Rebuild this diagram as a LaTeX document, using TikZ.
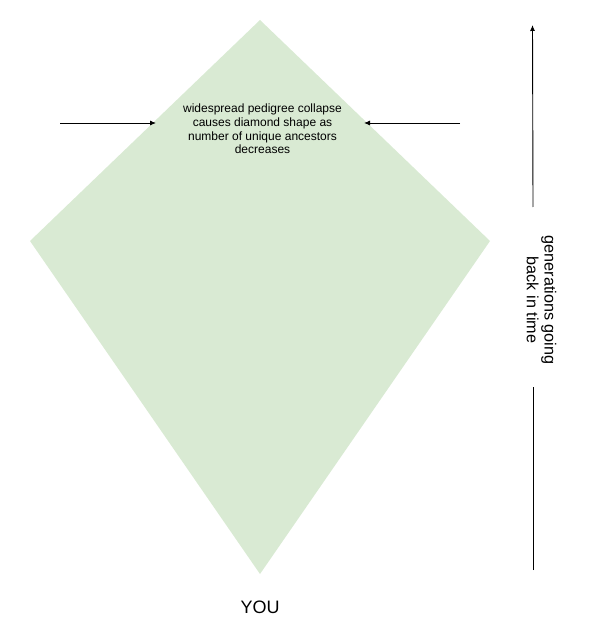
\documentclass[tikz,border=0pt]{standalone}
\usepackage{fontspec}
\setmainfont{Liberation Sans}
\usetikzlibrary{arrows.meta}
\definecolor{kitegreen}{HTML}{D9EAD3}
\tikzset{
  kite/.style={fill=kitegreen, draw=none},
  pointer/.style={draw=black, line width=0.9pt, -{Latex[length=6pt,width=5pt]}},
  plainline/.style={draw=black, line width=0.9pt},
  note/.style={inner sep=0pt, align=center, font=\fontsize{12}{13.75}\selectfont},
  sidenote/.style={inner sep=0pt, align=center, rotate=-90, font=\fontsize{16.2}{17.6}\selectfont},
  bignote/.style={inner sep=0pt, font=\fontsize{18}{21}\selectfont}
}
\begin{document}
\begin{tikzpicture}[x=1pt, y=-1pt]
\useasboundingbox (0,0) rectangle (596,644);
% diamond
\coordinate (top) at (260,20);
\coordinate (left) at (30,241);
\coordinate (right) at (490,241);
\coordinate (bottom) at (260,574);
\path[kite] (top) -- (right) -- (bottom) -- (left) -- cycle;
% texts
\node[note] (collapse) at (262.5,129) {widespread pedigree collapse\\causes diamond shape as\\number of unique ancestors\\decreases};
\node[sidenote] (gen) at (541.5,300) {generations going\\back in time};
\node[bignote, anchor=base] (you) at (260,613) {YOU};
% horizontal arrows
\coordinate (la) at (60,123);
\coordinate (lb) at (156,123);
\coordinate (ra) at (460,123);
\coordinate (rb) at (364,123);
\draw[pointer] (la) -- (lb);
\draw[pointer] (ra) -- (rb);
% vertical arrow
\coordinate (va) at (533,207);
\coordinate (vb) at (532.5,25);
\coordinate (vc) at (533,570);
\coordinate (vd) at (533,387);
\draw[pointer] (va) -- (vb);
\draw[plainline] (vc) -- (vd);
\end{tikzpicture}
\end{document}
